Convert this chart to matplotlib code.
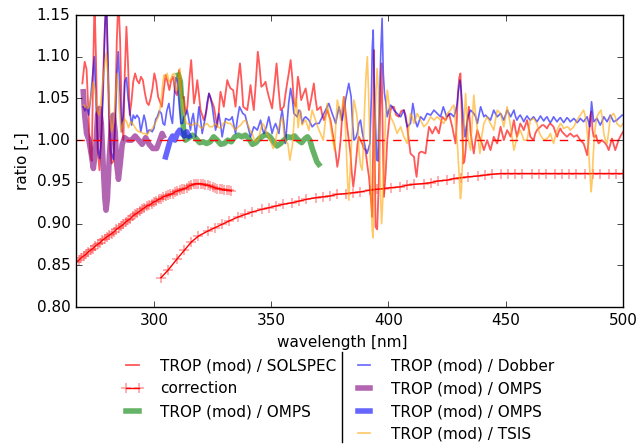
import matplotlib
matplotlib.use("Agg")
import matplotlib.pyplot as plt
from matplotlib.lines import Line2D

plt.style.use("classic")
plt.rcParams["font.family"] = "DejaVu Sans"
plt.rcParams["font.size"] = 11

# TROP (mod) / SOLSPEC
solspec = [
    (269.5, 1.068), (270.5, 1.094), (271.3, 1.085), (272.0, 1.04), (272.8, 0.985), (273.5, 0.975),
    (274.1, 1.08), (274.7, 1.17), (275.3, 1.10), (276.0, 0.99), (276.8, 0.964), (277.6, 1.01),
    (278.3, 1.07), (279.0, 1.13), (279.7, 1.17), (280.4, 1.08), (281.2, 0.99), (282.0, 0.972),
    (282.8, 0.975), (283.5, 1.03), (284.2, 1.12), (284.9, 1.17), (285.6, 1.12), (286.3, 1.03),
    (287.0, 1.0), (287.6, 1.08), (288.3, 1.136), (289.0, 1.09), (289.7, 1.03), (290.4, 1.045),
    (291.2, 1.07), (292.0, 1.08), (292.8, 1.072), (293.7, 1.068), (294.5, 1.076), (295.3, 1.072),
    (296.2, 1.056), (297.0, 1.045), (297.8, 1.042), (298.6, 1.05), (299.4, 1.062), (300.2, 1.08),
    (301.0, 1.07), (301.8, 1.052), (302.6, 1.046), (303.4, 1.040), (304.2, 1.06), (305.0, 1.078),
    (305.8, 1.07), (306.6, 1.06), (307.4, 1.072), (308.2, 1.076), (309.0, 1.058), (309.8, 1.054),
    (310.7, 1.084), (311.5, 1.07), (312.2, 1.05), (312.8, 1.052), (313.5, 1.032), (314.3, 1.04),
    (315.2, 1.075), (315.9, 1.096), (316.5, 1.07), (317.1, 1.044), (317.8, 1.055), (318.5, 1.072),
    (319.2, 1.055), (319.9, 1.036), (320.6, 1.03), (321.3, 1.024), (322.4, 1.035), (323.5, 1.056),
    (324.5, 1.048), (325.6, 1.04), (326.3, 1.028), (327.0, 1.016), (327.7, 1.035), (328.4, 1.058),
    (329.1, 1.05), (329.8, 1.04), (330.5, 1.055), (331.3, 1.072), (332.0, 1.066), (332.7, 1.062),
    (333.8, 1.06), (334.8, 1.04), (335.8, 1.07), (336.7, 1.092), (337.4, 1.07), (338.1, 1.04),
    (339.0, 1.038), (339.8, 1.036), (340.5, 1.05), (341.2, 1.066), (341.9, 1.05), (342.6, 1.036),
    (343.5, 1.07), (344.3, 1.106), (345.0, 1.09), (345.8, 1.064), (346.7, 1.066), (347.6, 1.07),
    (348.3, 1.06), (349.0, 1.052), (349.7, 1.045), (350.4, 1.038), (351.4, 1.065), (352.3, 1.092),
    (353.2, 1.06), (354.0, 1.036), (354.7, 1.038), (355.4, 1.04), (356.1, 1.055), (356.8, 1.068),
    (357.5, 1.08), (358.3, 1.096), (359.0, 1.075), (359.7, 1.045), (360.5, 1.04), (361.4, 1.076),
    (362.1, 1.065), (362.8, 1.048), (363.7, 1.055), (364.7, 1.062), (365.4, 1.05), (366.1, 1.036),
    (367.1, 1.05), (368.2, 1.068), (368.9, 1.05), (369.6, 1.036), (370.4, 1.038), (371.1, 1.04),
    (371.8, 1.03), (372.5, 1.024), (373.2, 1.03), (373.9, 1.036), (374.6, 1.03), (375.3, 1.024),
    (376.0, 1.012), (376.7, 1.0), (377.5, 0.985), (378.2, 0.968), (378.9, 0.98), (379.6, 1.0),
    (380.3, 1.03), (381.0, 1.052), (381.7, 1.035), (382.4, 1.016), (383.1, 1.0), (383.8, 0.984),
    (384.4, 0.96), (385.0, 0.944), (385.6, 0.958), (386.2, 0.975), (386.8, 0.995), (387.4, 1.004),
    (388.1, 1.0), (388.8, 0.996), (389.5, 0.99), (390.2, 0.988), (391.0, 0.97), (391.7, 0.956),
    (392.5, 0.93), (393.1, 0.908), (393.5, 1.0), (393.8, 1.108), (394.1, 1.0), (394.5, 0.896),
    (395.2, 0.893), (395.9, 0.95), (396.5, 1.04), (397.1, 1.092), (397.6, 1.0), (398.1, 0.932),
    (398.8, 0.96), (399.5, 1.0), (400.2, 1.02), (400.9, 1.036), (401.6, 1.04), (402.3, 1.04),
    (403.3, 1.03), (404.4, 1.028), (405.5, 1.035), (406.6, 1.036), (407.3, 1.03), (408.0, 1.016),
    (408.7, 1.0), (409.4, 0.984), (410.1, 0.982), (410.9, 0.98), (411.5, 0.965), (412.0, 0.956),
    (412.5, 0.97), (413.0, 0.984), (413.7, 0.986), (414.4, 0.986), (415.1, 0.985), (415.8, 0.984),
    (416.5, 1.0), (417.3, 1.016), (418.0, 1.012), (418.7, 1.008), (419.4, 1.012), (420.1, 1.016),
    (420.8, 1.012), (421.5, 1.008), (422.2, 1.018), (422.9, 1.028), (423.6, 1.026), (424.4, 1.024),
    (425.1, 1.028), (425.8, 1.032), (426.5, 1.024), (427.2, 1.016), (427.9, 1.006), (428.6, 0.996),
    (429.1, 1.02), (429.6, 1.056), (430.2, 1.075), (430.7, 1.08), (431.3, 1.03), (431.9, 0.972),
    (432.4, 0.975), (432.9, 0.988), (433.6, 1.02), (434.3, 1.04), (435.0, 1.01), (435.7, 0.996),
    (436.4, 0.984), (437.1, 1.0), (437.9, 1.012), (438.6, 1.006), (439.3, 1.0), (440.0, 0.995),
    (440.7, 0.988), (441.4, 0.994), (442.1, 1.0), (442.8, 0.994), (443.5, 0.988), (444.2, 0.996),
    (444.9, 1.004), (445.6, 1.0), (446.4, 0.996), (447.1, 1.006), (447.8, 1.016), (448.5, 1.008),
    (449.2, 1.0), (449.9, 1.006), (450.6, 1.012), (451.4, 1.008), (452.1, 1.004), (452.8, 1.014),
    (453.5, 1.024), (454.2, 1.012), (454.8, 1.004), (455.5, 1.012), (456.2, 1.02), (457.0, 1.016),
    (457.7, 1.012), (458.4, 1.018), (459.1, 1.024), (459.8, 1.014), (460.5, 1.004), (461.2, 1.002),
    (461.9, 1.0), (462.6, 1.008), (463.3, 1.012), (464.0, 1.014), (464.8, 1.016), (465.5, 1.018),
    (466.2, 1.018), (466.9, 1.016), (467.6, 1.014), (468.3, 1.018), (469.0, 1.02), (469.7, 1.018),
    (470.4, 1.016), (471.1, 1.01), (471.9, 1.004), (472.6, 1.01), (473.3, 1.014), (474.0, 1.01),
    (474.7, 1.008), (475.4, 1.006), (476.1, 1.004), (476.8, 1.006), (477.5, 1.008), (478.3, 1.006),
    (479.0, 1.004), (479.7, 1.005), (480.4, 1.006), (481.1, 1.003), (481.8, 1.0), (482.5, 0.998),
    (483.2, 0.996), (483.9, 0.99), (484.7, 0.982), (485.2, 0.995), (485.6, 1.012), (486.1, 1.03),
    (486.5, 1.034), (487.0, 1.012), (487.5, 1.004), (488.0, 1.004), (488.5, 1.006), (489.0, 1.0),
    (489.6, 0.996), (490.3, 0.998), (491.0, 1.0), (491.8, 0.998), (492.5, 0.996), (493.2, 0.993),
    (493.9, 0.988), (494.6, 0.995), (495.3, 1.002), (496.0, 0.995), (496.7, 0.988), (497.4, 0.994),
    (498.1, 1.0), (498.8, 1.004), (499.6, 1.008), (500.0, 1.01),
]

# TROP (mod) / Dobber
dobber = [
    (269.8, 1.04), (270.6, 1.035), (271.4, 1.04), (272.2, 1.03), (273.0, 1.05), (273.8, 1.075),
    (274.6, 1.10), (275.4, 1.04), (276.2, 0.99), (276.9, 0.978), (277.6, 1.0), (278.4, 1.06),
    (279.2, 1.14), (279.8, 1.17), (280.4, 1.10), (281.1, 1.02), (281.8, 0.985), (282.7, 0.977),
    (283.4, 1.01), (284.1, 1.07), (284.8, 1.106), (285.5, 1.06), (286.2, 1.01), (286.9, 1.03),
    (287.6, 1.07), (288.3, 1.075), (289.0, 1.05), (289.7, 1.035), (290.5, 1.018), (291.2, 1.03),
    (292.0, 1.026), (292.8, 1.03), (293.7, 1.026), (294.4, 1.01), (295.1, 1.02), (295.8, 1.03),
    (296.5, 1.022), (297.2, 1.008), (297.9, 1.012), (298.6, 1.012), (299.3, 1.01), (300.0, 1.014),
    (300.8, 1.025), (301.5, 1.028), (302.3, 1.035), (303.2, 1.032), (303.9, 1.02), (304.6, 1.018),
    (305.5, 1.035), (306.4, 1.044), (307.1, 1.03), (307.9, 1.02), (308.6, 1.05), (309.3, 1.075),
    (310.0, 1.07), (310.7, 1.045), (311.5, 1.02), (312.2, 1.02), (312.8, 1.028), (313.5, 1.03),
    (314.2, 1.036), (314.9, 1.025), (315.6, 1.012), (316.2, 1.025), (316.8, 1.032), (317.3, 1.02),
    (317.8, 1.004), (318.5, 1.02), (319.2, 1.04), (319.9, 1.025), (320.6, 1.008), (321.3, 1.018),
    (322.0, 1.028), (322.7, 1.045), (323.5, 1.056), (324.2, 1.05), (324.9, 1.04), (325.6, 1.025),
    (326.3, 1.012), (327.0, 1.022), (327.7, 1.032), (328.4, 1.02), (329.1, 1.004), (329.8, 1.015),
    (330.6, 1.026), (331.3, 1.025), (332.0, 1.024), (332.7, 1.025), (333.4, 1.028), (334.1, 1.018),
    (334.8, 1.008), (335.6, 1.025), (336.5, 1.04), (337.2, 1.036), (337.9, 1.032), (338.9, 1.03),
    (339.8, 1.02), (340.5, 1.012), (341.2, 1.004), (341.9, 1.01), (342.6, 1.016), (343.4, 1.014),
    (344.1, 1.012), (344.8, 1.018), (345.5, 1.024), (346.2, 1.014), (346.9, 1.008), (348.0, 1.016),
    (349.0, 1.028), (349.7, 1.018), (350.4, 1.008), (351.1, 1.015), (351.9, 1.02), (352.6, 1.014),
    (353.3, 1.008), (354.0, 1.025), (354.7, 1.036), (355.4, 1.02), (356.1, 0.996), (356.8, 1.02),
    (357.5, 1.045), (358.3, 1.062), (359.0, 1.05), (359.7, 1.032), (360.4, 1.03), (361.1, 1.028),
    (361.8, 1.036), (362.5, 1.034), (363.2, 1.02), (364.0, 1.026), (364.7, 1.028), (365.4, 1.026),
    (366.1, 1.024), (366.8, 1.02), (367.5, 1.016), (368.2, 1.018), (368.9, 1.02), (369.6, 1.02),
    (370.4, 1.02), (371.1, 1.024), (371.8, 1.028), (372.5, 1.032), (373.2, 1.036), (373.9, 1.04),
    (374.6, 1.044), (375.3, 1.038), (376.0, 1.032), (376.8, 1.026), (377.5, 1.02), (378.2, 1.03),
    (378.9, 1.04), (379.6, 1.032), (380.3, 1.024), (381.0, 1.036), (381.7, 1.048), (382.4, 1.058),
    (383.1, 1.068), (383.6, 1.06), (384.1, 1.052), (384.7, 1.02), (385.3, 1.0), (386.0, 1.002),
    (386.7, 1.008), (387.4, 1.02), (388.1, 1.024), (388.8, 1.01), (389.5, 1.0), (390.2, 0.99),
    (390.9, 0.984), (391.5, 0.99), (392.1, 0.996), (392.7, 1.05), (393.1, 1.11), (393.5, 1.132),
    (393.9, 1.07), (394.5, 1.02), (395.0, 0.976), (395.5, 0.975), (395.9, 1.02), (396.3, 1.06),
    (396.8, 1.11), (397.3, 1.146), (397.8, 1.08), (398.3, 1.056), (398.9, 1.045), (399.5, 1.028),
    (400.2, 1.036), (400.9, 1.042), (401.6, 1.04), (402.3, 1.036), (403.0, 1.034), (403.7, 1.032),
    (404.4, 1.03), (405.2, 1.028), (405.9, 1.032), (406.6, 1.036), (407.3, 1.026), (408.0, 1.016),
    (408.7, 1.018), (409.4, 1.02), (409.9, 1.032), (410.4, 1.044), (410.9, 1.036), (411.4, 1.024),
    (412.3, 1.016), (413.0, 1.022), (413.7, 1.028), (414.4, 1.026), (415.1, 1.024), (415.8, 1.028),
    (416.5, 1.032), (417.3, 1.031), (418.0, 1.03), (418.7, 1.033), (419.4, 1.036), (420.1, 1.034),
    (420.8, 1.032), (421.5, 1.03), (422.2, 1.028), (422.8, 1.034), (423.4, 1.04), (424.1, 1.034),
    (424.8, 1.028), (425.7, 1.03), (426.5, 1.032), (427.2, 1.03), (427.9, 1.028), (428.6, 1.034),
    (429.3, 1.044), (429.9, 1.06), (430.5, 1.072), (431.0, 1.06), (431.5, 1.04), (432.0, 1.02),
    (432.6, 1.004), (433.2, 1.016), (433.9, 1.028), (434.4, 1.032), (435.0, 1.036), (435.7, 1.034),
    (436.4, 1.032), (437.2, 1.028), (437.9, 1.02), (438.6, 1.03), (439.3, 1.04), (440.0, 1.034),
    (440.7, 1.028), (441.4, 1.03), (442.1, 1.028), (442.8, 1.026), (443.5, 1.024), (444.2, 1.03),
    (444.9, 1.036), (445.6, 1.032), (446.4, 1.028), (447.1, 1.03), (447.8, 1.032), (448.5, 1.028),
    (449.2, 1.024), (449.9, 1.03), (450.6, 1.036), (451.4, 1.032), (452.1, 1.028), (452.8, 1.032),
    (453.5, 1.036), (454.2, 1.028), (454.8, 1.024), (455.5, 1.028), (456.2, 1.03), (457.0, 1.026),
    (457.7, 1.022), (458.4, 1.026), (459.1, 1.029), (459.8, 1.026), (460.5, 1.024), (461.2, 1.026),
    (461.9, 1.028), (462.6, 1.025), (463.3, 1.022), (464.0, 1.025), (464.8, 1.029), (465.5, 1.026),
    (466.2, 1.023), (466.9, 1.026), (467.6, 1.028), (468.3, 1.024), (469.0, 1.021), (469.7, 1.024),
    (470.4, 1.028), (471.1, 1.025), (471.9, 1.022), (472.6, 1.025), (473.3, 1.027), (474.0, 1.024),
    (474.7, 1.021), (475.4, 1.024), (476.1, 1.027), (476.8, 1.025), (477.5, 1.022), (478.3, 1.024),
    (479.0, 1.026), (479.7, 1.024), (480.4, 1.021), (481.1, 1.023), (481.8, 1.026), (482.5, 1.024),
    (483.2, 1.022), (483.9, 1.025), (484.7, 1.028), (485.3, 1.022), (485.8, 1.016), (486.2, 1.03),
    (486.6, 1.046), (487.0, 1.035), (487.5, 1.022), (488.2, 1.024), (488.9, 1.026), (489.6, 1.022),
    (490.3, 1.018), (491.0, 1.022), (491.8, 1.028), (492.5, 1.025), (493.2, 1.022), (493.9, 1.026),
    (494.6, 1.03), (495.3, 1.026), (496.0, 1.022), (496.7, 1.023), (497.4, 1.024), (498.1, 1.026),
    (498.9, 1.028), (499.6, 1.03), (500.0, 1.03),
]

# TROP (mod) / TSIS
tsis = [
    (270.2, 1.042), (271.0, 1.04), (271.8, 1.038), (272.6, 1.042), (273.4, 1.055), (274.2, 1.07),
    (275.0, 1.06), (275.8, 1.035), (276.6, 1.03), (277.4, 1.045), (278.2, 1.07), (279.0, 1.09),
    (279.7, 1.105), (280.4, 1.08), (281.2, 1.03), (282.0, 1.01), (282.8, 1.02), (283.6, 1.05),
    (284.4, 1.08), (285.2, 1.04), (286.0, 1.01), (286.8, 1.02), (287.6, 1.025), (288.4, 1.022),
    (289.2, 1.015), (290.1, 1.022), (291.0, 1.02), (291.8, 1.016), (292.7, 1.012), (293.6, 1.01),
    (294.4, 1.01), (295.3, 1.008), (296.2, 1.008), (297.0, 1.006), (297.9, 1.01), (298.8, 1.012),
    (299.6, 1.015), (300.5, 1.02), (301.4, 1.025), (302.2, 1.03), (303.0, 1.045), (303.7, 1.065),
    (304.3, 1.078), (305.0, 1.075), (305.7, 1.08), (306.4, 1.07), (307.1, 1.072), (307.8, 1.078),
    (308.6, 1.08), (309.3, 1.06), (310.0, 1.06), (310.6, 1.075), (311.1, 1.086), (311.7, 1.06),
    (312.3, 1.04), (313.0, 1.03), (313.8, 1.02), (314.6, 1.02), (315.4, 1.018), (316.4, 1.018),
    (317.4, 1.02), (318.5, 1.02), (319.5, 1.016), (320.6, 1.014), (321.6, 1.018), (322.7, 1.02),
    (323.8, 1.016), (324.9, 1.016), (325.6, 1.018), (326.3, 1.02), (327.3, 1.016), (328.4, 1.014),
    (329.5, 1.02), (330.6, 1.022), (331.6, 1.02), (332.7, 1.02), (333.8, 1.016), (334.8, 1.012),
    (336.0, 1.016), (337.0, 1.018), (338.0, 1.022), (339.1, 1.024), (339.8, 1.02), (340.5, 1.016),
    (341.2, 1.01), (341.9, 1.008), (342.6, 1.002), (343.3, 0.998), (344.0, 1.0), (344.8, 1.004),
    (345.5, 1.012), (346.2, 1.02), (346.9, 1.018), (347.6, 1.012), (348.5, 1.006), (349.4, 1.002),
    (350.1, 0.996), (350.9, 0.99), (351.6, 0.996), (352.3, 1.006), (353.3, 1.016), (354.0, 1.022),
    (354.7, 1.028), (355.2, 1.015), (355.7, 1.004), (356.4, 0.998), (357.1, 0.996), (357.6, 0.985),
    (358.0, 0.976), (358.5, 0.985), (359.0, 0.992), (359.7, 1.02), (360.4, 1.05), (360.8, 1.045),
    (361.5, 1.015), (362.3, 1.036), (362.8, 1.03), (363.2, 1.018), (364.0, 1.022), (364.7, 1.024),
    (365.4, 1.018), (366.1, 1.012), (366.8, 1.025), (367.5, 1.036), (368.2, 1.03), (368.9, 1.024),
    (369.6, 1.018), (370.4, 1.012), (371.3, 1.006), (372.2, 1.0), (373.0, 1.02), (373.9, 1.044),
    (374.7, 1.03), (375.6, 1.012), (376.3, 1.0), (377.0, 0.988), (377.6, 1.02), (378.2, 1.048),
    (378.9, 1.04), (379.6, 1.024), (380.3, 1.04), (381.0, 1.052), (381.6, 1.02), (382.1, 0.984),
    (382.6, 0.95), (383.1, 0.928), (383.6, 0.96), (384.1, 0.988), (384.7, 1.02), (385.3, 1.048),
    (385.9, 1.04), (386.4, 1.032), (386.9, 1.02), (387.4, 0.988), (388.1, 0.97), (388.8, 0.964),
    (389.3, 0.99), (389.8, 1.036), (390.4, 1.075), (391.0, 1.1), (391.5, 1.06), (392.1, 0.996),
    (392.6, 0.93), (393.1, 0.892), (393.4, 0.883), (393.8, 0.93), (394.1, 0.996), (394.7, 1.06),
    (395.2, 1.086), (395.7, 1.06), (396.2, 0.996), (396.7, 0.93), (397.1, 0.9), (397.6, 0.93),
    (398.1, 0.968), (398.8, 1.03), (399.5, 1.06), (400.2, 1.045), (400.9, 1.028), (401.6, 1.024),
    (402.3, 1.02), (403.0, 1.014), (403.7, 1.008), (404.4, 1.012), (405.2, 1.016), (405.9, 1.01),
    (406.6, 1.004), (407.3, 1.0), (408.0, 0.996), (408.7, 1.015), (409.4, 1.032), (410.1, 1.028),
    (410.9, 1.02), (411.6, 1.026), (412.3, 1.032), (413.0, 1.028), (413.7, 1.024), (414.4, 1.02),
    (415.1, 1.016), (415.8, 1.018), (416.5, 1.02), (417.3, 1.024), (418.0, 1.028), (418.7, 1.026),
    (419.4, 1.024), (420.1, 1.026), (420.8, 1.028), (421.5, 1.026), (422.2, 1.024), (422.9, 1.022),
    (423.6, 1.02), (424.4, 1.026), (425.1, 1.032), (425.8, 1.034), (426.5, 1.036), (427.2, 1.04),
    (427.9, 1.042), (428.5, 1.025), (429.0, 1.008), (429.5, 0.99), (430.0, 0.964), (430.4, 0.945),
    (430.7, 0.93), (431.1, 0.94), (431.6, 0.976), (432.2, 1.02), (432.9, 1.056), (433.4, 1.03),
    (433.9, 1.004), (434.4, 0.996), (435.0, 0.988), (435.7, 1.02), (436.4, 1.054), (437.0, 1.035),
    (437.6, 1.02), (438.3, 1.0), (439.0, 0.984), (439.8, 1.005), (440.7, 1.02), (441.4, 1.024),
    (442.1, 1.028), (442.8, 1.024), (443.5, 1.02), (444.2, 1.016), (444.9, 1.012), (445.6, 1.024),
    (446.4, 1.036), (447.1, 1.034), (447.8, 1.032), (448.5, 1.024), (449.2, 1.016), (449.9, 1.028),
    (450.6, 1.04), (451.4, 1.028), (452.1, 1.016), (452.8, 1.002), (453.5, 0.988), (454.2, 0.996),
    (454.8, 1.004), (455.5, 1.008), (456.2, 1.012), (457.0, 1.006), (457.7, 1.0), (458.4, 1.0),
    (459.1, 1.0), (459.8, 1.012), (460.5, 1.024), (461.2, 1.025), (461.9, 1.026), (462.6, 1.023),
    (463.3, 1.02), (464.0, 1.012), (464.8, 1.006), (465.5, 1.003), (466.2, 1.0), (466.9, 1.001),
    (467.6, 1.002), (468.3, 1.004), (469.0, 1.008), (469.7, 1.002), (470.4, 0.996), (471.1, 1.004),
    (471.9, 1.012), (472.6, 1.016), (473.3, 1.02), (474.0, 1.018), (474.7, 1.014), (475.4, 1.015),
    (476.1, 1.016), (476.8, 1.015), (477.5, 1.012), (478.3, 1.014), (479.0, 1.016), (479.7, 1.02),
    (480.4, 1.024), (481.1, 1.027), (481.8, 1.03), (482.5, 1.033), (483.2, 1.036), (483.8, 1.03),
    (484.4, 1.02), (484.9, 1.005), (485.4, 0.984), (485.9, 0.96), (486.4, 0.938), (486.8, 0.95),
    (487.2, 0.976), (487.7, 1.0), (488.2, 1.016), (488.9, 1.028), (489.6, 1.032), (490.1, 1.034),
    (490.6, 1.036), (491.2, 1.026), (491.8, 1.008), (492.5, 1.0), (493.2, 0.996), (493.9, 1.01),
    (494.6, 1.028), (495.3, 1.03), (496.0, 1.032), (496.7, 1.028), (497.4, 1.02), (498.1, 1.018),
    (498.9, 1.016), (499.6, 1.018), (500.0, 1.02),
]

# TROP (mod) / OMPS (three pieces)
omps_purple = [
    (269.9, 1.058), (270.5, 1.03), (271.3, 1.008), (272.3, 1.0), (273.2, 0.985), (274.2, 0.966),
    (275.2, 0.99), (276.0, 1.03), (276.8, 1.038), (277.6, 1.02), (278.4, 0.97), (279.1, 0.93),
    (279.6, 0.916), (280.2, 0.93), (281.0, 0.98), (282.0, 1.02), (282.7, 1.03), (283.5, 1.01),
    (284.2, 0.97), (284.9, 0.953), (285.6, 0.97), (286.5, 0.995), (287.5, 1.003), (289.0, 1.0),
    (290.5, 1.0), (292.0, 1.005), (293.5, 1.0), (295.0, 0.995), (296.5, 1.003), (298.0, 0.995),
    (299.5, 0.99), (301.2, 0.99), (302.5, 1.0), (303.5, 1.008), (304.0, 1.005),
]
omps_blue = [
    (305.0, 0.980), (306.0, 0.99), (307.0, 1.0), (308.0, 1.005), (309.0, 1.0), (310.0, 1.008),
    (311.0, 1.012), (312.0, 1.008), (313.0, 1.005), (314.0, 1.01), (315.0, 1.005),
]
omps_green = [
    (310.5, 1.078), (311.3, 1.07), (312.0, 1.04), (312.7, 1.01), (313.5, 1.0), (315.0, 1.003),
    (316.5, 1.006), (318.0, 1.002), (319.5, 0.997), (321.0, 0.998), (322.5, 0.996), (324.0, 0.998),
    (325.5, 1.004), (327.0, 1.0), (328.5, 0.995), (330.0, 0.996), (331.5, 1.0), (333.0, 0.998),
    (334.5, 1.004), (336.0, 1.006), (337.5, 1.004), (339.0, 1.006), (340.5, 1.002), (342.0, 0.995),
    (343.5, 0.997), (345.0, 1.002), (346.5, 1.005), (348.0, 1.007), (349.5, 1.004), (351.0, 0.998),
    (352.5, 0.993), (354.0, 0.996), (355.5, 1.0), (357.0, 1.004), (358.5, 1.003), (360.0, 1.005),
    (361.5, 1.0), (363.0, 0.997), (364.5, 1.002), (365.5, 1.004), (366.5, 1.0), (367.5, 0.99),
    (368.5, 0.982), (369.5, 0.974), (370.3, 0.971),
]

# correction curves
corr1_x = [267, 268, 269, 270, 271, 272, 273, 274, 275, 276, 277, 278, 279, 280, 281, 282, 283,
           284, 285, 286, 287, 288, 289, 290, 291, 292, 293, 294, 295, 296, 297, 298, 299, 300,
           301, 302, 303, 304, 305, 306, 307, 308, 309, 310, 311, 312, 313, 314, 315, 316, 317,
           318, 319, 320, 321, 322, 323, 324, 325, 326, 327, 328, 329, 330, 331, 332, 333]
corr1_y = [0.854, 0.856, 0.859, 0.861, 0.863, 0.866, 0.868, 0.870, 0.873, 0.875, 0.877, 0.880,
           0.882, 0.884, 0.886, 0.888, 0.890, 0.893, 0.895, 0.897, 0.899, 0.902, 0.904, 0.906,
           0.909, 0.911, 0.913, 0.915, 0.917, 0.919, 0.921, 0.922, 0.924, 0.926, 0.927, 0.929,
           0.930, 0.932, 0.933, 0.934, 0.935, 0.936, 0.938, 0.939, 0.940, 0.941, 0.942, 0.943,
           0.945, 0.946, 0.947, 0.948, 0.948, 0.948, 0.947, 0.946, 0.946, 0.945, 0.944, 0.943,
           0.942, 0.942, 0.941, 0.940, 0.940, 0.940, 0.939]
corr2_x = [303, 306, 310, 313, 316, 319, 323, 326, 329, 332, 336, 339, 342, 346, 349, 352, 355,
           359, 362, 365, 369, 372, 375, 378, 382, 385, 388, 392, 395, 398, 401, 405, 408, 411,
           415, 418, 421, 425, 428, 431, 434, 438, 441, 444, 448, 451, 454, 457, 461, 464, 467,
           471, 474, 477, 480, 484, 487, 490, 494, 497, 500]
corr2_y = [0.835, 0.844, 0.858, 0.868, 0.878, 0.885, 0.891, 0.895, 0.899, 0.903, 0.908, 0.911,
           0.914, 0.917, 0.919, 0.921, 0.923, 0.925, 0.927, 0.929, 0.931, 0.932, 0.933, 0.935,
           0.936, 0.937, 0.938, 0.940, 0.941, 0.942, 0.943, 0.944, 0.946, 0.947, 0.948, 0.949,
           0.951, 0.952, 0.954, 0.955, 0.956, 0.957, 0.958, 0.959, 0.960, 0.960, 0.960, 0.960,
           0.960, 0.960, 0.960, 0.960, 0.960, 0.960, 0.960, 0.960, 0.960, 0.960, 0.960, 0.960,
           0.960]

ref_level = 1.0


def xy(pairs):
    return [p[0] for p in pairs], [p[1] for p in pairs]


fig = plt.figure(figsize=(6.4, 4.46), dpi=100, facecolor="white")
ax = fig.add_axes([76 / 640, 1 - 307 / 446, 547 / 640, 292 / 446])

h_sol, = ax.plot(*xy(solspec), color="r", alpha=0.65, lw=1.3, label="TROP (mod) / SOLSPEC")
mk = dict(marker="+", ms=6.5, mew=1.1, mec=(1, 0, 0, 0.4))
h_cor, = ax.plot(corr1_x, corr1_y, color="r", lw=1, label="correction", **mk)
ax.plot(corr2_x, corr2_y, color="r", lw=1, **mk)
h_grn, = ax.plot(*xy(omps_green), color="green", alpha=0.6, lw=4, label="TROP (mod) / OMPS")
h_dob, = ax.plot(*xy(dobber), color="b", alpha=0.6, lw=1.2, label="TROP (mod) / Dobber")
h_pur, = ax.plot(*xy(omps_purple), color="purple", alpha=0.6, lw=4, label="TROP (mod) / OMPS")
h_blu, = ax.plot(*xy(omps_blue), color="b", alpha=0.6, lw=4, label="TROP (mod) / OMPS")
h_tsi, = ax.plot(*xy(tsis), color="orange", alpha=0.6, lw=1.2, label="TROP (mod) / TSIS")
ax.axhline(ref_level, color="r", ls="--", lw=1)

ax.set_xlim(266.8, 500)
ax.set_ylim(0.80, 1.15)
ax.set_xticks([300, 350, 400, 450, 500])
ax.set_yticks([0.80, 0.85, 0.90, 0.95, 1.00, 1.05, 1.10, 1.15])
ax.set_ylabel("ratio [-]")
fig.text(342 / 640, 1 - 342 / 446, "wavelength [nm]", ha="center", va="center", fontsize=11)

blank = Line2D([], [], color="none")
handles = [h_sol, h_cor, h_grn, blank, h_dob, h_pur, h_blu, h_tsi]
labels = [h.get_label() for h in handles[:3]] + [""] + [h.get_label() for h in handles[4:]]
fig.legend(handles, labels, ncol=2, frameon=False, fontsize=11, numpoints=2,
           loc="upper left", bbox_to_anchor=(108 / 640, 1 - 345 / 446),
           handlelength=1.4, handletextpad=1.1, columnspacing=1.1, labelspacing=0.5)
fig.add_artist(Line2D([342 / 640, 342 / 640], [1 - 352 / 446, 1 - 442 / 446],
                      color="k", lw=1, transform=fig.transFigure))

fig.savefig("out.png", dpi=100, facecolor="white")
